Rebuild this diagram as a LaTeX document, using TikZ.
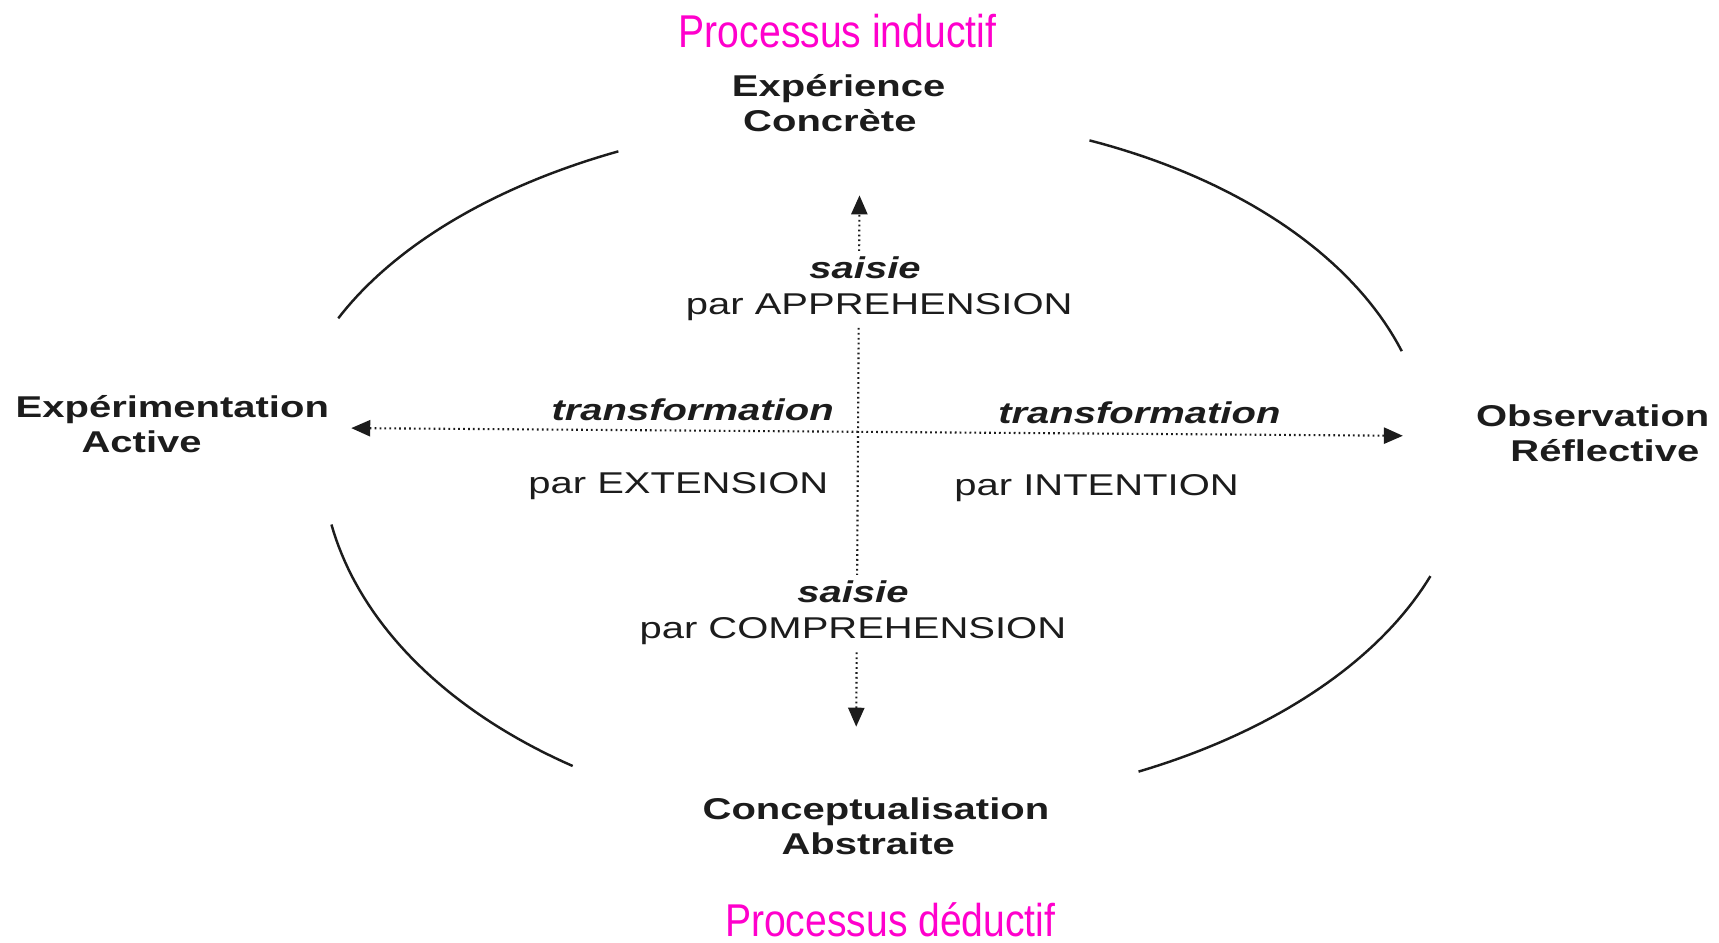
\documentclass[tikz,border=0pt]{standalone}
\usepackage{fontspec}
\setmainfont{Liberation Sans}
\newfontfamily\blkfont[FakeStretch=1.33]{Liberation Sans}
\newfontfamily\magfont[FakeStretch=0.85]{Liberation Sans}
\usetikzlibrary{arrows.meta}
\definecolor{mag}{RGB}{255,0,204}
\definecolor{ink}{RGB}{28,28,28}
\begin{document}
\begin{tikzpicture}[x=0.01098cm, y=-0.01098cm,
  corner/.style={font=\blkfont\bfseries\fontsize{8.56}{10}\selectfont, text=ink, align=center, inner sep=0pt},
  proc/.style={font=\magfont\fontsize{13.1}{15}\selectfont, text=mag, inner sep=0pt},
  lab/.style={font=\blkfont\fontsize{8.56}{10.4}\selectfont, text=ink, inner sep=0pt},
  grasp/.style={lab, align=center, fill=white, inner sep=1.5pt},
  axis/.style={draw=ink, line width=0.6pt, dash pattern=on 0.5pt off 0.9pt,
    {Triangle[length=5.4pt,width=4.6pt]}-{Triangle[length=5.4pt,width=4.6pt]}},
  cyc/.style={draw=ink, line width=0.7pt}]
\useasboundingbox (0,0) rectangle (1566,859);

% arcs of the cycle
\draw[cyc] plot[domain=203.9:243.9, samples=40] ({800+538*cos(\x)}, {415+308.6*sin(\x)});
\draw[cyc] plot[domain=-67.4:-17.8, samples=40] ({800+501*cos(\x)}, {415+311*sin(\x)});
\draw[cyc] plot[domain=123.3:169.3, samples=40] ({800+506.9*cos(\x)}, {415+338.4*sin(\x)});
\draw[cyc] plot[domain=20:63.7, samples=40] ({800+535.4*cos(\x)}, {415+321.2*sin(\x)});

% axes
\coordinate (top) at (783,178);
\coordinate (bot) at (780,662);
\coordinate (lft) at (320,390);
\coordinate (rgt) at (1278,397);
\draw[axis] (bot) -- (top);
\draw[axis] (lft) -- (rgt);

% titles
\node[proc] (ind) at (763,28) {Processus inductif};
\node[proc] (ded) at (811,838) {Processus déductif};

% poles
\node[corner] (ec) at (764,94) {Expérience\\\hspace*{-5pt}Concrète};
\node[corner] (ea) at (157,386) {Expérimentation\\\hspace*{-17.5pt}Active};
\node[corner] (or) at (1451,395) {Observation\\\hspace*{6.9pt}Réflective};
\node[corner] (ca) at (798,753) {Conceptualisation\\\hspace*{-4.4pt}Abstraite};

% grasping labels
\node[grasp] (app) at (801,263) {\bfseries\itshape\hspace*{-8.1pt}saisie\\par APPREHENSION};
\node[grasp] (com) at (777,558) {\bfseries\itshape saisie\\par COMPREHENSION};

% transformation labels
\node[lab, font=\blkfont\bfseries\itshape\fontsize{8.56}{10}\selectfont] (tr1) at (631,373) {transformation};
\node[lab, font=\blkfont\bfseries\itshape\fontsize{8.56}{10}\selectfont] (tr2) at (1038,376) {transformation};
\node[lab] (ext) at (618,443) {par EXTENSION};
\node[lab] (int) at (999,445) {par INTENTION};
\end{tikzpicture}
\end{document}
